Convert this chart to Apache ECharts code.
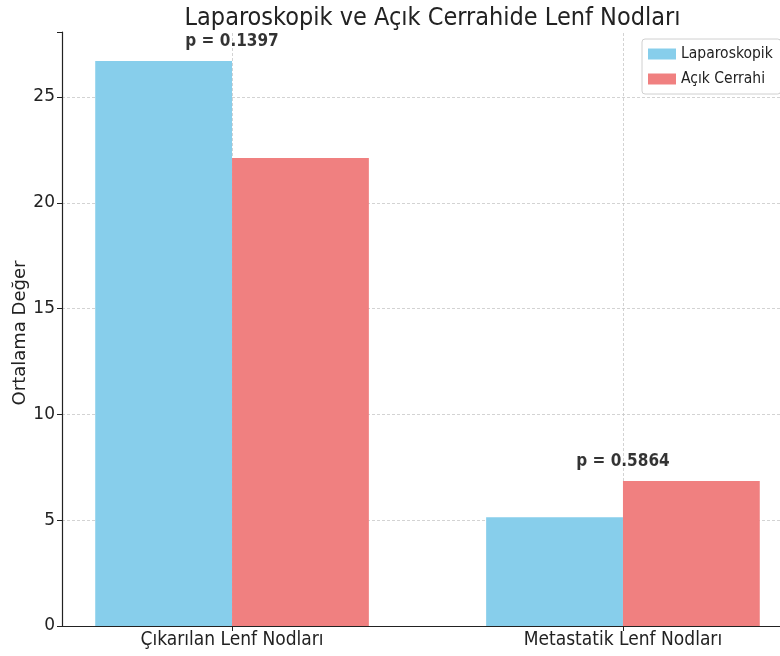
<!DOCTYPE html>
<html>
<head>
<meta charset="utf-8">
<script src="https://cdn.jsdelivr.net/npm/echarts@6/dist/echarts.min.js"></script>
<style>
	html,body{margin:0;padding:0;background:#fff;}
	#main{width:780px;height:656px;}
</style>
</head>
<body>
<div id="main"></div>
<script>
	// data
	var categories = ['Çıkarılan Lenf Nodları', 'Metastatik Lenf Nodları'];
	var seriesNames = ['Laparoskopik', 'Açık Cerrahi'];
	var laparoskopik = [26.7, 5.14];
	var acikCerrahi = [22.12, 6.85];
	var pValues = ['0.1397', '0.5864'];
	var yTicks = [0, 5, 10, 15, 20, 25];

	var chart = echarts.init(document.getElementById('main'));

	// matplotlib style layout: bars 0.35 wide, x from -0.435 to 1.435
	var xMin = -0.435, xMax = 1.435, w = 0.35;
	var gridLeft = 62, gridWidth = 731;
	var barPx = w * gridWidth / (xMax - xMin);

	var lapData = [], acikData = [], pData = [];
	for (var i = 0; i < categories.length; i++) {
		lapData.push([i - w / 2, laparoskopik[i]]);
		acikData.push([i + w / 2, acikCerrahi[i]]);
		pData.push([i, Math.max(laparoskopik[i], acikCerrahi[i]) + 0.5]);
	}

	var option = {
		animation: false,
		backgroundColor: '#fff',
		title: {
			text: 'Laparoskopik ve Açık Cerrahide Lenf Nodları',
			left: gridLeft + gridWidth / 2,
			textAlign: 'center',
			top: 1,
			textStyle: {fontFamily: 'DejaVu Sans Condensed', fontSize: 25, fontWeight: 'normal', color: '#222'}
		},
		legend: {
			data: seriesNames,
			icon: 'rect',
			orient: 'vertical',
			left: 642,
			top: 39,
			padding: [7, 8, 7, 6],
			itemWidth: 28,
			itemHeight: 11,
			itemGap: 9,
			borderColor: '#d0d0d0',
			borderWidth: 1,
			borderRadius: 3,
			backgroundColor: 'rgba(255,255,255,0.8)',
			textStyle: {fontFamily: 'DejaVu Sans Condensed', fontSize: 15.5, color: '#222'}
		},
		grid: {left: gridLeft, top: 32, width: gridWidth, bottom: 30, outerBoundsMode: 'none', containLabel: false},
		xAxis: {
			type: 'value',
			min: xMin,
			max: xMax,
			axisLine: {show: true, onZero: false, lineStyle: {color: '#222', width: 1.2}},
			axisTick: {show: true, customValues: [0, 1], length: 5, lineStyle: {color: '#222'}},
			axisLabel: {
				customValues: [0, 1],
				formatter: function (v) { return categories[Math.round(v)]; },
				fontFamily: 'DejaVu Sans Condensed', fontSize: 19, color: '#222', margin: 5
			},
			splitLine: {show: false}
		},
		yAxis: {
			type: 'value',
			min: 0,
			max: 28.07,
			interval: 5,
			name: 'Ortalama Değer',
			nameLocation: 'middle',
			nameGap: 33,
			nameMoveOverlap: false,
			nameTextStyle: {fontFamily: 'DejaVu Sans', fontSize: 18, color: '#222', padding: [0, 8, 0, 0]},
			axisLine: {show: true, onZero: false, lineStyle: {color: '#222', width: 1.2}},
			axisTick: {show: true, length: 5, lineStyle: {color: '#222'}},
			axisLabel: {
				fontFamily: 'DejaVu Sans', fontSize: 17, color: '#222', margin: 7,
				formatter: function (v) { return yTicks.indexOf(v) >= 0 ? String(v) : ''; }
			},
			splitLine: {show: true, showMinLine: false, showMaxLine: false, lineStyle: {color: '#c8c8c8', type: [3, 2], width: 0.8}}
		},
		series: [
			{
				name: seriesNames[0],
				type: 'bar',
				data: lapData,
				barWidth: barPx,
				barGap: '-100%',
				itemStyle: {color: '#87CEEB'},
				z: 3
			},
			{
				name: seriesNames[1],
				type: 'bar',
				data: acikData,
				barWidth: barPx,
				barGap: '-100%',
				itemStyle: {color: '#F08080'},
				z: 3
			},
			{
				name: 'p',
				type: 'scatter',
				data: pData,
				symbolSize: 0,
				silent: true,
				z: 5,
				label: {
					show: true,
					position: 'top',
					distance: 0,
					formatter: function (p) { return 'p = ' + pValues[p.dataIndex]; },
					fontFamily: 'DejaVu Sans Condensed', fontSize: 17, fontWeight: 'bold', color: '#000'
				},
				markLine: {
					silent: true,
					symbol: 'none',
					label: {show: false},
					lineStyle: {color: '#c8c8c8', type: [3, 2], width: 0.8},
					z: 1,
					data: [{xAxis: 0}, {xAxis: 1}]
				}
			}
		]
	};
	chart.setOption(option);
</script>
</body>
</html>
